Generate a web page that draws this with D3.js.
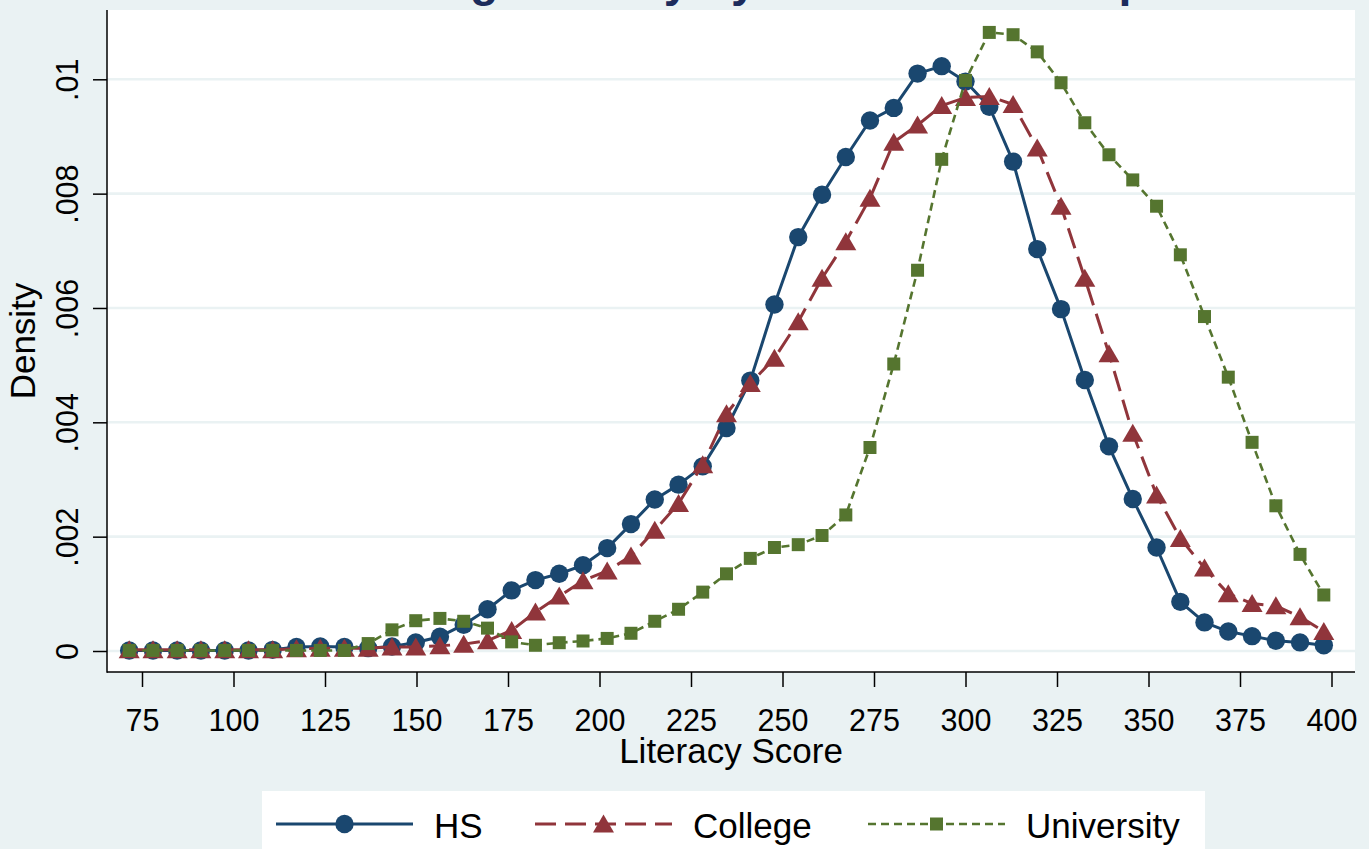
<!DOCTYPE html>
<html>
<head>
<meta charset="utf-8">
<script src="https://cdn.jsdelivr.net/npm/d3@7"></script>
<style>
  html, body { margin: 0; padding: 0; background: #EAF2F3; }
  svg { display: block; font-family: "Liberation Sans", Arial, Helvetica, sans-serif; }
</style>
</head>
<body>
<svg id="chart" width="1369" height="849"></svg>
<script>
// ---------- data ----------
const titleText = "Reading Literacy by Education Group";
const xLabel = "Literacy Score";
const yLabel = "Density";
const xTicks = [75, 100, 125, 150, 175, 200, 225, 250, 275, 300, 325, 350, 375, 400];
const yTicks = [0, 0.002, 0.004, 0.006, 0.008, 0.01];
const yTickLabels = ["0", ".002", ".004", ".006", ".008", ".01"];
const seriesNames = ["HS", "College", "University"];

const scores = [71.5, 78.0, 84.6, 91.1, 97.6, 104.1, 110.7, 117.2, 123.7, 130.3, 136.8,
  143.3, 149.8, 156.4, 162.9, 169.4, 176.0, 182.5, 189.0, 195.5, 202.1,
  208.6, 215.1, 221.6, 228.2, 234.7, 241.2, 247.8, 254.3, 260.8, 267.3,
  273.9, 280.4, 286.9, 293.5, 300.0, 306.5, 313.0, 319.6, 326.1, 332.6,
  339.2, 345.7, 352.2, 358.7, 365.3, 371.8, 378.3, 384.8, 391.4, 397.9];

const hs = [0.00001, 0.00001, 0.00001, 0.00001, 0.00001, 0.00001, 0.00002, 0.00007, 0.00008, 0.00007, 0.00005,
  0.00008, 0.00015, 0.00025, 0.00046, 0.00073, 0.00106, 0.00124, 0.00135, 0.0015, 0.0018,
  0.00222, 0.00265, 0.00291, 0.00323, 0.0039, 0.00473, 0.00606, 0.00724, 0.00798, 0.00864,
  0.00928, 0.0095, 0.0101, 0.01023, 0.00996, 0.00952, 0.00856, 0.00703, 0.00598, 0.00474,
  0.00358, 0.00266, 0.00181, 0.00086, 0.0005, 0.00034, 0.00026, 0.00018, 0.00015, 0.0001];

const college = [0.00002, 0.00002, 0.00002, 0.00002, 0.00002, 0.00002, 0.00002, 0.00004, 0.00005, 0.00005, 0.00005,
  0.00007, 0.00007, 0.00009, 0.00012, 0.00018, 0.00036, 0.00068, 0.00096, 0.00123, 0.0014,
  0.00166, 0.00211, 0.00258, 0.00326, 0.00415, 0.00468, 0.00512, 0.00576, 0.00652, 0.00716,
  0.00792, 0.0089, 0.0092, 0.00954, 0.00968, 0.0097, 0.00956, 0.0088, 0.00778, 0.00652,
  0.0052, 0.00381, 0.00273, 0.00197, 0.00145, 0.001, 0.00083, 0.00079, 0.0006, 0.00034];

const university = [0.00001, 0.00001, 0.00001, 0.00001, 0.00001, 0.00001, 0.00001, 0.00001, 0.00001, 0.00001, 0.00013,
  0.00037, 0.00053, 0.00057, 0.00052, 0.0004, 0.00016, 0.0001, 0.000145, 0.000175, 0.00022,
  0.00031, 0.00052, 0.00073, 0.00103, 0.00135, 0.00162, 0.00181, 0.00186, 0.00202, 0.00238,
  0.00356, 0.00502, 0.00666, 0.0086, 0.00998, 0.01082, 0.01078, 0.01048, 0.00994, 0.00924,
  0.00868, 0.00824, 0.00778, 0.00693, 0.00585, 0.00479, 0.00365, 0.00254, 0.00169, 0.00098];

// ---------- styles ----------
const colors = ["#1A476F", "#90353B", "#55752F"];
const dashes = [null, "21,9", "8,5"];
const widths = [3, 3, 2.6];
const markers = ["circle", "triangle", "square"];

const svg = d3.select("#chart");
const W = 1369, H = 849;
const plot = { left: 107, top: 10, right: 1355, bottom: 672 };

svg.append("rect").attr("width", W).attr("height", H).attr("fill", "#EAF2F3");

// title (only descenders visible at top edge)
svg.append("text")
  .attr("x", (plot.left + plot.right) / 2)
  .attr("y", -4)
  .attr("text-anchor", "middle")
  .attr("font-size", 46.5)
  .attr("font-weight", "bold")
  .attr("fill", "#1C2C5C")
  .text(titleText);

svg.append("rect")
  .attr("x", plot.left).attr("y", plot.top)
  .attr("width", plot.right - plot.left).attr("height", plot.bottom - plot.top)
  .attr("fill", "#ffffff");

const x = d3.scaleLinear().domain([75, 400]).range([142, 1331.5]);
const y = d3.scaleLinear().domain([0, 0.01]).range([651, 79.3]);

// gridlines
svg.append("g").selectAll("line").data(yTicks).join("line")
  .attr("x1", plot.left).attr("x2", plot.right)
  .attr("y1", d => y(d)).attr("y2", d => y(d))
  .attr("stroke", "#EAF2F3").attr("stroke-width", 2.6);

// axes
const xAxis = d3.axisBottom(x).tickValues(xTicks).tickSize(15).tickSizeOuter(0).tickFormat(d3.format("d"));
const gx = svg.append("g").attr("transform", `translate(0,${plot.bottom})`).call(xAxis);
gx.select(".domain").remove();
gx.selectAll(".tick line").attr("stroke", "#000").attr("stroke-width", 1.5);
gx.selectAll(".tick text").attr("dy", null).attr("y", 59)
  .attr("font-size", 30.5).attr("fill", "#000").attr("font-family", "Liberation Sans, Arial, sans-serif");

const yAxis = d3.axisLeft(y).tickValues(yTicks).tickSize(14).tickSizeOuter(0)
  .tickFormat((d, i) => yTickLabels[i]);
const gy = svg.append("g").attr("transform", `translate(${plot.left},0)`).call(yAxis);
gy.select(".domain").remove();
gy.selectAll(".tick line").attr("stroke", "#000").attr("stroke-width", 1.5);
gy.selectAll(".tick text")
  .attr("x", 0).attr("dy", null).attr("y", -29)
  .attr("transform", "rotate(-90)")
  .attr("text-anchor", "middle")
  .attr("font-size", 30.5).attr("fill", "#000").attr("font-family", "Liberation Sans, Arial, sans-serif");

// axis lines
svg.append("line").attr("x1", plot.left).attr("x2", plot.left).attr("y1", plot.top).attr("y2", plot.bottom + 0.75)
  .attr("stroke", "#000").attr("stroke-width", 1.5);
svg.append("line").attr("x1", plot.left).attr("x2", plot.right).attr("y1", plot.bottom).attr("y2", plot.bottom)
  .attr("stroke", "#000").attr("stroke-width", 1.5);

// axis titles
svg.append("text").attr("x", (plot.left + plot.right) / 2).attr("y", 763)
  .attr("text-anchor", "middle").attr("font-size", 35).attr("fill", "#000").text(xLabel);
svg.append("text").attr("transform", `translate(35,${(plot.top + plot.bottom) / 2}) rotate(-90)`)
  .attr("text-anchor", "middle").attr("font-size", 35).attr("fill", "#000").text(yLabel);

// marker path generator
function markerPath(type) {
  if (type === "circle") return d3.symbol().type(d3.symbolCircle).size(Math.PI * 9.2 * 9.2)();
  if (type === "square") return "M-6.5,-6.5H6.5V6.5H-6.5Z";
  return "M0,-9.5L10.5,8.5L-10.5,8.5Z";
}

const seriesData = [hs, college, university];
const line = d3.line().x(d => x(d[0])).y(d => y(d[1]));

seriesData.forEach((vals, k) => {
  const pts = scores.map((s, i) => [s, vals[i]]);
  const g = svg.append("g");
  g.append("path").datum(pts).attr("d", line)
    .attr("fill", "none").attr("stroke", colors[k]).attr("stroke-width", widths[k])
    .attr("stroke-dasharray", dashes[k]).attr("stroke-linejoin", "round");
  g.selectAll("path.m").data(pts).join("path").attr("class", "m")
    .attr("transform", d => `translate(${x(d[0])},${y(d[1])})`)
    .attr("d", markerPath(markers[k]))
    .attr("fill", colors[k]);
});

// legend
const lg = svg.append("g");
lg.append("rect").attr("x", 262).attr("y", 791).attr("width", 943).attr("height", 80).attr("fill", "#fff");
const legendX = [276, 535, 868];
seriesNames.forEach((name, k) => {
  const x0 = legendX[k], ly = 824;
  lg.append("line").attr("x1", x0).attr("x2", x0 + 137).attr("y1", ly).attr("y2", ly)
    .attr("stroke", colors[k]).attr("stroke-width", widths[k]).attr("stroke-dasharray", dashes[k]);
  lg.append("path").attr("transform", `translate(${x0 + 68.5},${ly})`).attr("d", markerPath(markers[k])).attr("fill", colors[k]);
  lg.append("text").attr("x", x0 + 158).attr("y", 838).attr("font-size", 35).attr("fill", "#000").text(name);
});
</script>
</body>
</html>
